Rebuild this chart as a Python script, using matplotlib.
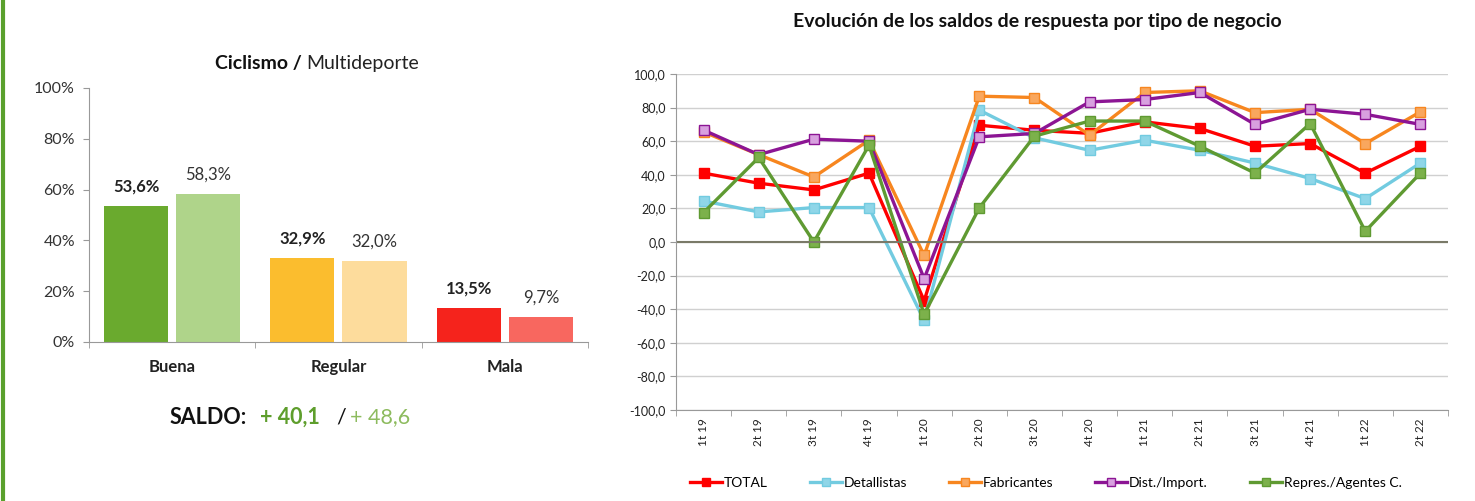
import matplotlib

matplotlib.use("Agg")
import matplotlib.pyplot as plt
from matplotlib.lines import Line2D

plt.rcParams["font.family"] = ["Lato", "DejaVu Sans"]

# left panel data
categories = ["Buena", "Regular", "Mala"]
ciclismo = [53.6, 32.9, 13.5]
multideporte = [58.3, 32.0, 9.7]
saldo_ciclismo = "+ 40,1"
saldo_multi = "+ 48,6"

# right panel data
quarters = ["1t 19", "2t 19", "3t 19", "4t 19", "1t 20", "2t 20", "3t 20",
            "4t 20", "1t 21", "2t 21", "3t 21", "4t 21", "1t 22", "2t 22"]
total = [41, 35, 31, 41, -35, 69.5, 66.5, 64.7, 71.5, 67.6, 57, 58.6, 41, 57]
detallistas = [24.4, 17.9, 20.5, 20.5, -46.7, 78.5, 62, 54.6, 60.6, 54.6, 47, 37.8, 25.8, 47]
fabricantes = [65.5, 52, 38.7, 60.6, -8, 86.8, 86, 63.6, 89, 90, 77, 79, 58.6, 77.5]
distribuidores = [66.6, 52, 61.2, 60, -21.8, 62.6, 64.6, 83.4, 84.8, 89, 70, 79, 76, 70]
representantes = [17.5, 50.3, 0, 57.6, -43, 20.3, 63, 72, 72, 57, 41, 70.5, 6.4, 41]

DARK = ["#6aaa2e", "#fbbd2e", "#f5231c"]
LIGHT = ["#afd48a", "#fddc9c", "#f8675f"]


def pct(v):
    return "{:.1f}%".format(v).replace(".", ",")


fig = plt.figure(figsize=(14.75, 5.01), dpi=100)

# ---- left: bar chart
ax = fig.add_axes([0.0603, 0.3174, 0.3383, 0.507])
x = range(len(categories))
w = 0.386
off = 0.217
for i in x:
    ax.bar(i - off, ciclismo[i], width=w, color=DARK[i])
    ax.bar(i + off, multideporte[i], width=w, color=LIGHT[i])
    ax.text(i - off, ciclismo[i] + 4.5, pct(ciclismo[i]),
            ha="center", va="bottom", fontsize=12, fontweight="bold", color="#222")
    ax.text(i + off, multideporte[i] + 4.5, pct(multideporte[i]),
            ha="center", va="bottom", fontsize=12, color="#333")
ax.set_xlim(-0.5, 2.5)
ax.set_ylim(0, 100)
ax.set_yticks(range(0, 101, 20))
ax.set_yticklabels(["{}%".format(v) for v in range(0, 101, 20)], fontsize=11.5, color="#333")
ax.set_xticks(list(x))
ax.set_xticklabels(categories, fontsize=12, fontweight="bold", color="#222")
ax.set_xticks([-0.5, 0.5, 1.5, 2.5], minor=True)
ax.tick_params(axis="x", which="major", length=0, pad=12)
ax.tick_params(axis="x", which="minor", length=4, color="#999")
ax.tick_params(axis="y", length=4, color="#999", pad=6)
ax.spines[["top", "right"]].set_visible(False)
for s in ("left", "bottom"):
    ax.spines[s].set_color("#999")
fig.text(302 / 1475, 1 - 63 / 501, "Ciclismo /", ha="right", va="center",
         fontsize=14, fontweight="bold", color="#111")
fig.text(306 / 1475, 1 - 63 / 501, "Multideporte", ha="left", va="center",
         fontsize=14, color="#222")

# SALDO line
sy = 1 - 417 / 501
fig.text(170 / 1475, sy, "SALDO:", ha="left", va="center", fontsize=15.5, fontweight="bold", color="#111")
fig.text(260 / 1475, sy, saldo_ciclismo, ha="left", va="center", fontsize=15.5, fontweight="bold", color="#5e9e2c")
fig.text(336 / 1475, sy, "/", ha="left", va="center", fontsize=15.5, color="#111")
fig.text(350 / 1475, sy, saldo_multi, ha="left", va="center", fontsize=15.5, color="#8dbb5e")

# ---- right: line chart
ax2 = fig.add_axes([0.4583, 0.1816, 0.5234, 0.6707])
xs = range(len(quarters))
series = [
    ("TOTAL", total, "#ff0000", "#ff0000"),
    ("Detallistas", detallistas, "#72cbe0", "#8fd6e8"),
    ("Fabricantes", fabricantes, "#f7861f", "#f9a75e"),
    ("Dist./Import.", distribuidores, "#8c1594", "#d8a0df"),
    ("Repres./Agentes C.", representantes, "#5f9a32", "#7cb14b"),
]
for name, vals, col, face in series:
    ax2.plot(xs, vals, color=col, lw=2.4, marker="s", markersize=6.5,
             markerfacecolor=face, markeredgecolor=col, markeredgewidth=1, label=name)
ax2.set_xlim(-0.5, len(quarters) - 0.5)
ax2.set_ylim(-100, 100)
yt = list(range(-100, 101, 20))
ax2.set_yticks(yt)
ax2.set_yticklabels(["{:.1f}".format(v).replace(".", ",") for v in yt], fontsize=9, color="#222")
ax2.grid(axis="y", color="#d0d0d0", lw=1)
ax2.axhline(0, color="#7a7a68", lw=1.5)
ax2.set_axisbelow(True)
ax2.set_xticks(list(xs))
ax2.set_xticklabels(quarters, rotation=90, fontsize=8.5, color="#222")
ax2.set_xticks([i - 0.5 for i in range(len(quarters) + 1)], minor=True)
ax2.tick_params(axis="x", which="major", length=0, pad=6)
ax2.tick_params(axis="x", which="minor", length=4, color="#999")
ax2.tick_params(axis="y", length=4, color="#999")
ax2.spines[["top", "right"]].set_visible(False)
for s in ("left", "bottom"):
    ax2.spines[s].set_color("#999")
ax2.set_title("Evolución de los saldos de respuesta por tipo de negocio",
              fontsize=14, fontweight="bold", pad=34, color="#111", x=0.468)
ax2.legend(loc="center", bbox_to_anchor=(0.479, -0.217), ncol=5, frameon=False,
           fontsize=10, handlelength=2.3, columnspacing=3.0, handletextpad=0.15,
           markerscale=0.85)

# green frame edge on the left
fig.add_artist(Line2D([0.002, 0.002], [0, 1], color="#5aa02c", lw=3))

fig.savefig("out.png", dpi=100)
